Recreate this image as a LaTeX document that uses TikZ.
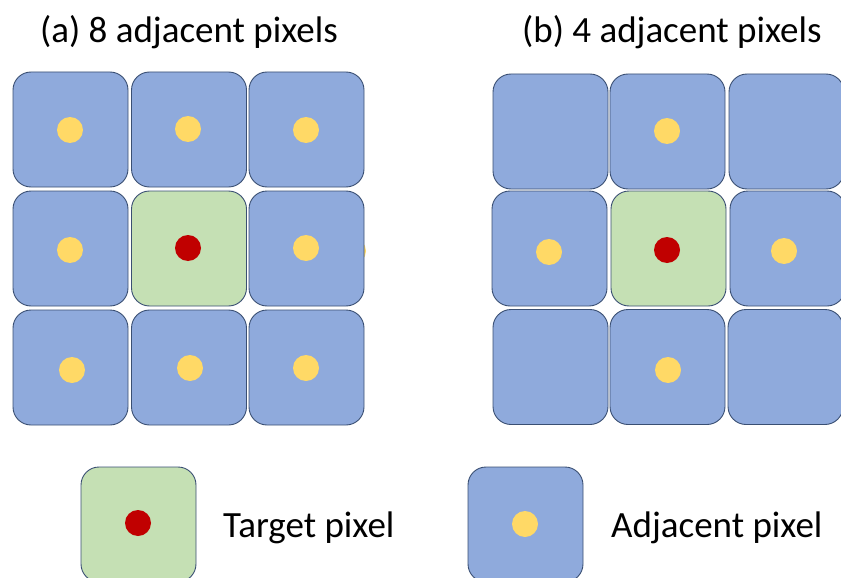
\documentclass[tikz,border=0pt]{standalone}
\usepackage{fontspec}
\setmainfont{Carlito}
\definecolor{cellblue}{HTML}{8FAADC}
\definecolor{cellgreen}{HTML}{C5E0B4}
\definecolor{celledge}{HTML}{3A4F73}
\definecolor{dotyellow}{HTML}{FFD966}
\definecolor{dotred}{HTML}{C00000}
\tikzset{
  cellbase/.style={draw=celledge, line width=0.9pt, rounded corners=18pt, minimum width=115pt, minimum height=115pt, inner sep=0pt},
  adjcell/.style={cellbase, fill=cellblue},
  tgtcell/.style={cellbase, fill=cellgreen},
  ydot/.style={circle, fill=dotyellow, minimum size=26pt, inner sep=0pt},
  rdot/.style={circle, fill=dotred, minimum size=26pt, inner sep=0pt},
  lbl/.style={font=\fontsize{37}{42}\selectfont, inner sep=0pt, anchor=base west}
}
\begin{document}
\begin{tikzpicture}[x=1pt,y=-1pt]
\useasboundingbox (0,0) rectangle (841,578);
\clip (0,0) rectangle (841,578);
% titles
\node[lbl] (ta) at (40,43) {(a) 8 adjacent pixels};
\node[lbl] (tb) at (522,43) {(b) 4 adjacent pixels};
% stray sliver
\node[ydot] (stray) at (353,251) {};
% left grid
\node[adjcell] (a11) at (70.5,129.5) {};
\node[adjcell] (a12) at (189,129.5) {};
\node[adjcell] (a13) at (306.5,129.5) {};
\node[adjcell] (a21) at (70.5,248.5) {};
\node[tgtcell] (a22) at (189,248.5) {};
\node[adjcell] (a23) at (306.5,248.5) {};
\node[adjcell] (a31) at (70.5,367.5) {};
\node[adjcell] (a32) at (189,367.5) {};
\node[adjcell] (a33) at (306.5,367.5) {};
\node[ydot] (da11) at (70,130) {};
\node[ydot] (da12) at (188,129) {};
\node[ydot] (da13) at (306,130) {};
\node[ydot] (da21) at (70,250) {};
\node[rdot] (da22) at (188,248) {};
\node[ydot] (da23) at (306,248) {};
\node[ydot] (da31) at (72,370) {};
\node[ydot] (da32) at (190,368) {};
\node[ydot] (da33) at (306,368) {};
% right grid
\node[adjcell] (b11) at (550.5,131.5) {};
\node[adjcell] (b12) at (667.5,131.5) {};
\node[adjcell] (b13) at (786.5,131.5) {};
\node[adjcell] (b21) at (549.5,248.5) {};
\node[tgtcell] (b22) at (668.5,248.5) {};
\node[adjcell] (b23) at (787.5,248.5) {};
\node[adjcell] (b31) at (550.5,367) {};
\node[adjcell] (b32) at (667.5,367) {};
\node[adjcell] (b33) at (785.5,367) {};
\node[ydot] (db12) at (667,131) {};
\node[ydot] (db21) at (549,252) {};
\node[rdot] (db22) at (667,250) {};
\node[ydot] (db23) at (784,251) {};
\node[ydot] (db32) at (668,370) {};
% legend
\node[tgtcell] (lg) at (138.5,524.5) {};
\node[rdot] (lgd) at (138,523) {};
\node[lbl] (lgt) at (223,537) {Target pixel};
\node[adjcell] (lb) at (525.5,524.5) {};
\node[ydot] (lbd) at (525,524) {};
\node[lbl] (lbt) at (611,537) {Adjacent pixel};
\end{tikzpicture}
\end{document}
